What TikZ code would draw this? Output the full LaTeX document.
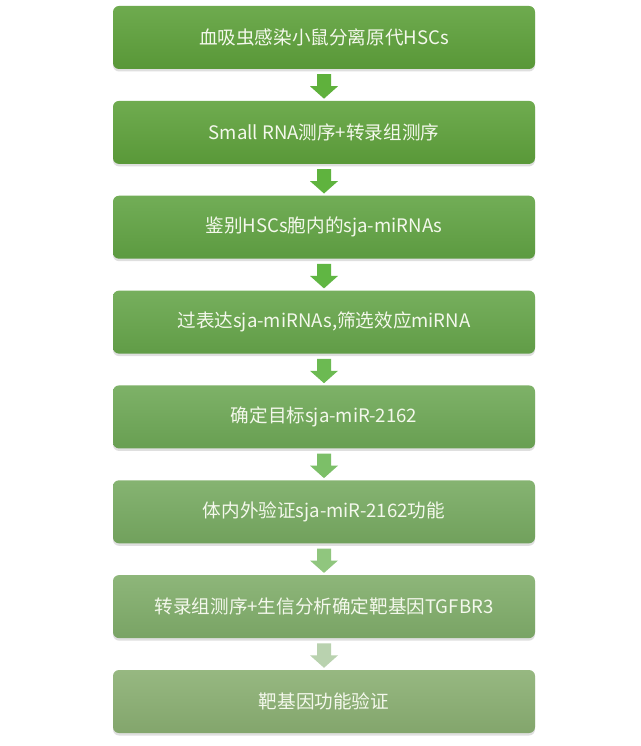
\documentclass[tikz,border=0pt]{standalone}
\usepackage{fontspec}
\newfontfamily\cjk{Noto Sans CJK SC}
\usetikzlibrary{calc,shadows}
\definecolor{bA}{HTML}{5EA13B}
\definecolor{bB}{HTML}{5FA23C}
\definecolor{bC}{HTML}{62A444}
\definecolor{bD}{HTML}{67A64B}
\definecolor{bE}{HTML}{6FA957}
\definecolor{bF}{HTML}{78AB62}
\definecolor{bG}{HTML}{81AE6B}
\definecolor{bH}{HTML}{8BB073}
\definecolor{aA}{HTML}{5FB13C}
\definecolor{aB}{HTML}{5FB33E}
\definecolor{aC}{HTML}{60B643}
\definecolor{aD}{HTML}{6CBA52}
\definecolor{aE}{HTML}{7CBF68}
\definecolor{aF}{HTML}{90C67E}
\definecolor{aG}{HTML}{B9D2AF}
\definecolor{txt}{HTML}{F4F8EC}
\tikzset{
  stepbox/.style={rounded corners=6pt, minimum width=422pt, minimum height=63pt,
    inner sep=0pt, text=txt, font=\cjk\fontsize{18.6}{20}\selectfont,
    top color=#1!90!white, bottom color=#1!94!black,
    drop shadow={opacity=0.25, shadow xshift=0pt, shadow yshift=-2.5pt}},
  blockarrow/.style={fill=#1, draw=none}
}
\newcommand{\downarrowfrom}[3]{%
  \fill[blockarrow=#3] ($(#1.south)+(-7,5)$) -- ($(#1.south)+(7,5)$) --
    ($(#1.south)+(7,17)$) -- ($(#1.south)+(14,17)$) -- ($(#2.north)+(0,-2)$) --
    ($(#1.south)+(-14,17)$) -- ($(#1.south)+(-7,17)$) -- cycle;}
\begin{document}
\begin{tikzpicture}[x=1pt,y=-1pt]
\useasboundingbox (0,0) rectangle (640,746);
\fill[white] (0,0) rectangle (640,746);
\node[stepbox=bA] (b1) at (324,37.5) {\raisebox{-1.5pt}{血吸虫感染小鼠分离原代HSCs}};
\node[stepbox=bB] (b2) at (324,132.4) {\raisebox{-1.5pt}{Small RNA测序+转录组测序}};
\node[stepbox=bC] (b3) at (324,227.2) {\raisebox{-1.5pt}{鉴别HSCs胞内的sja-miRNAs}};
\node[stepbox=bD] (b4) at (324,322.1) {\raisebox{-1.5pt}{过表达sja-miRNAs,筛选效应miRNA}};
\node[stepbox=bE] (b5) at (324,416.9) {\raisebox{-1.5pt}{确定目标sja-miR-2162}};
\node[stepbox=bF] (b6) at (324,511.8) {\raisebox{-1.5pt}{体内外验证sja-miR-2162功能}};
\node[stepbox=bG] (b7) at (324,606.6) {\raisebox{-1.5pt}{转录组测序+生信分析确定靶基因TGFBR3}};
\node[stepbox=bH] (b8) at (324,701.5) {\raisebox{-1.5pt}{靶基因功能验证}};
\downarrowfrom{b1}{b2}{aA}
\downarrowfrom{b2}{b3}{aB}
\downarrowfrom{b3}{b4}{aC}
\downarrowfrom{b4}{b5}{aD}
\downarrowfrom{b5}{b6}{aE}
\downarrowfrom{b6}{b7}{aF}
\downarrowfrom{b7}{b8}{aG}
\end{tikzpicture}
\end{document}
